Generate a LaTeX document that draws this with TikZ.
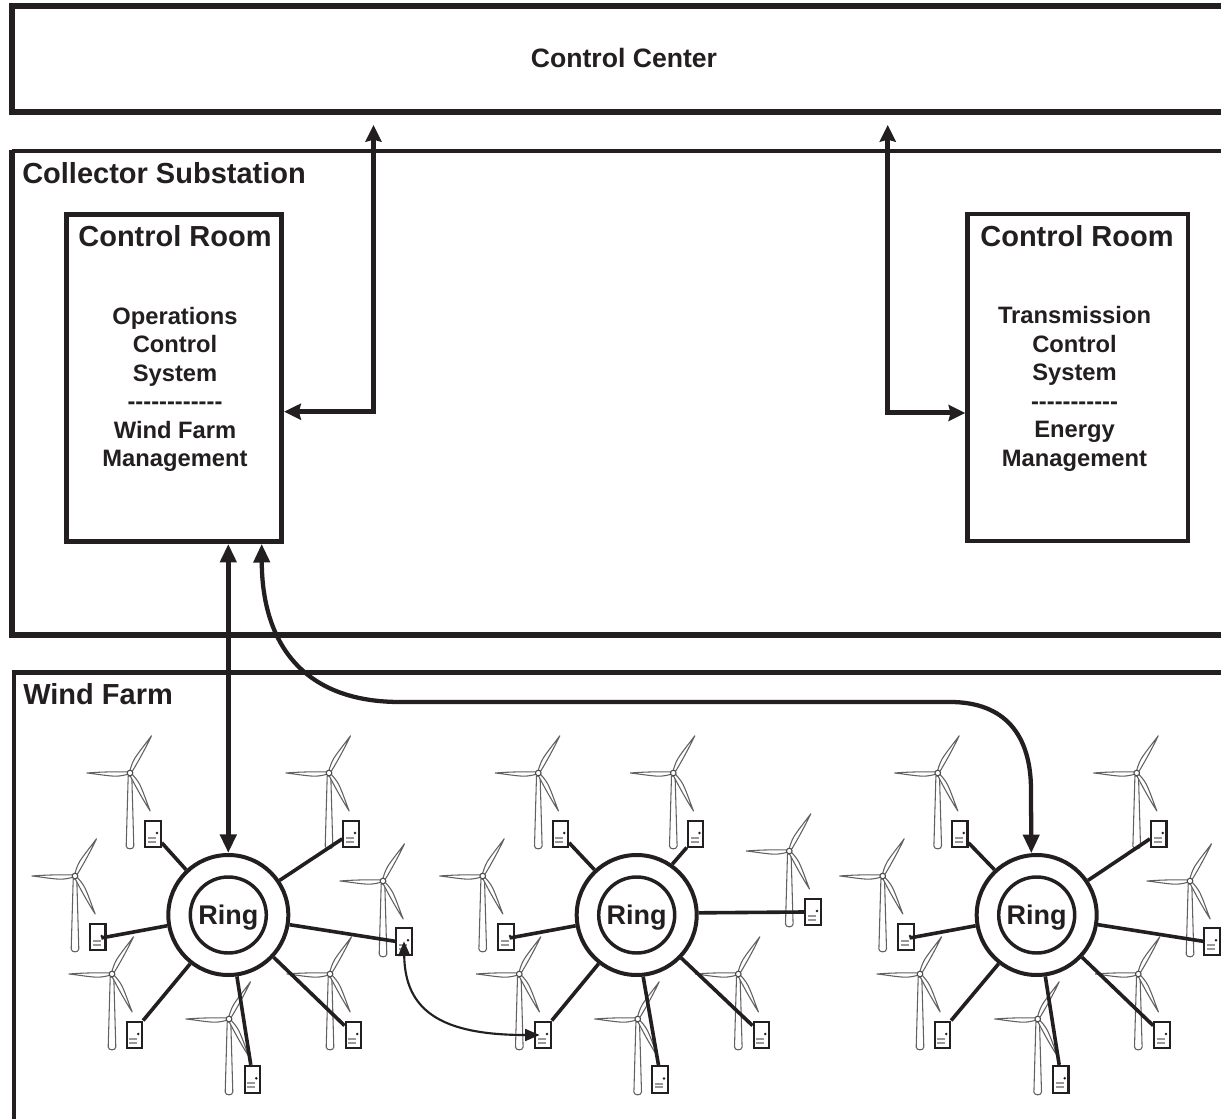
\documentclass[tikz,border=0pt]{standalone}
\usepackage{fontspec}
\setmainfont{Liberation Sans}
\usetikzlibrary{arrows.meta}
\definecolor{ink}{HTML}{231F20}
\tikzset{
  x=0.75pt, y=-0.75pt,
  outerbox/.style={draw=ink, line cap=butt, line join=miter},
  roombox/.style={draw=ink, line width=3.75pt, fill=white, inner sep=0pt, minimum height=245.3pt},
  cabinet/.style={draw=ink, line width=1.7pt, fill=white, inner sep=0pt, minimum width=11.5pt, minimum height=20pt},
  ringouter/.style={circle, draw=ink, line width=3pt, fill=white, inner sep=0pt, minimum size=90pt},
  ringinner/.style={circle, draw=ink, line width=2.6pt, fill=white, inner sep=0pt, minimum size=57pt, text=ink, text depth=0pt,
     font=\fontsize{20.25pt}{24pt}\selectfont\bfseries},
  spoke/.style={draw=ink, line width=2.7pt},
  heading/.style={text=ink, inner sep=0pt, anchor=base west, font=\fontsize{21.75pt}{26pt}\selectfont\bfseries},
  roomtitle/.style={text=ink, inner sep=0pt, anchor=base, font=\fontsize{21.75pt}{26pt}\selectfont\bfseries},
  roomtext/.style={text=ink, inner sep=0pt, align=center, font=\fontsize{17.8pt}{21.4pt}\selectfont\bfseries},
  link/.style={draw=ink, line width=3.75pt, line join=miter,
     {Stealth[width=12pt,length=12.5pt,inset=1.5pt]}-{Stealth[width=12pt,length=12.5pt,inset=1.5pt]}},
  farlink/.style={draw=ink, line width=3.6pt,
     {Stealth[width=12pt,length=14pt,inset=0pt]}-{Stealth[width=12pt,length=14pt,inset=0pt]}},
  peerlink/.style={draw=ink, line width=1.6pt, shorten >=2.5pt,
     {Stealth[width=9pt,length=11pt,inset=0pt]}-{Stealth[width=9pt,length=11pt,inset=0pt]}},
  turbine/.pic={
    \draw[draw=black!62, fill=white, line width=0.8pt, line join=round] (-1.8,3) -- (-3.8,73) .. controls (-3.8,76.8) and (3.8,76.8) .. (3.8,73) -- (1.8,3) -- cycle;
    \foreach \a in {60,180,-62}{
      \draw[draw=black!62, fill=white, line width=0.8pt, line join=round, rotate=\a]
        (1,-1) .. controls (5,-2) and (9,-3.2) .. (15,-3.2) .. controls (24,-2.8) and (35,-0.8) .. (43,0)
        .. controls (35,0.7) and (22,1.2) .. (12,1.2) .. controls (7,1.2) and (3,1.2) .. (1,1) -- cycle;
    }
    \draw[draw=black!70, fill=white, line width=0.8pt] (0,0) circle (2.8);
  }
}
\newcommand{\cabinetat}[3]{%
  \node[cabinet] (#1) at (#2,#3) {};
  \begin{scope}[shift={(#1.center)}]
    \fill[ink] (4,-1) circle (1.4);
    \fill[black!40] (-5,3) rectangle (3,5);
    \fill[black!40] (-5,6.5) rectangle (3,8.5);
  \end{scope}}
\begin{document}
\begin{tikzpicture}
\useasboundingbox (0,0) rectangle (1221,1119);
\fill[white] (0,0) rectangle (1221,1119);

% outer containers, cut by the right margin
\draw[outerbox, line width=4.4pt] (1221,6.3) -- (11.7,6.3) -- (11.7,111.7) -- (1221,111.7);
\draw[outerbox, line width=3pt] (1221,150.7) -- (11.7,150.7);
\draw[outerbox, line width=4.2pt] (11.7,149.6) -- (11.7,635) -- (1221,635);
\draw[outerbox, line width=3.6pt] (1221,672.3) -- (14,672.3) -- (14,1119);
\node[text=ink, inner sep=0pt, anchor=base, font=\fontsize{19.95pt}{24pt}\selectfont\bfseries] (cc) at (624,67.5) {Control Center};
\node[heading] (cs) at (22,183.5) {Collector Substation};
\node[heading] (wf) at (23,704.5) {Wind Farm};

% control rooms
\node[roombox, minimum width=161.25pt] (room1) at (174.2,377.8) {};
\node[roomtitle] (room1t) at (175,246.5) {Control Room};
\node[roomtext] (room1x) at (175,389.3) {Operations\\Control\\System\\-{}-{}-{}-{}-{}-{}-{}-{}-{}-{}-{}-{}\\Wind Farm\\Management};
\node[roombox, line width=3.4pt, minimum width=165.4pt] (room2) at (1077.8,377.4) {};
\node[roomtitle] (room2t) at (1077,246.5) {Control Room};
\node[roomtext] (room2x) at (1074.5,389) {Transmission\\Control\\System\\-{}-{}-{}-{}-{}-{}-{}-{}-{}-{}-{}\\Energy\\Management};

% turbines
\foreach \hx/\hy in {130/773,329/773,75/876,383/881,112/974,330/974,229/1019,
  538.3/773,673.3/773,482.7/876,789.3/851,519.3/974,738.3/974,637.7/1019,
  937.7/773,1136.7/773,882.7/876,1190/881,920/974,1138.3/974,1037.7/1019}
  \pic at (\hx,\hy) {turbine};

% cabinets
\cabinetat{b11}{153}{834}\cabinetat{b12}{351}{834}\cabinetat{b13}{97.7}{937}\cabinetat{b14}{404}{941.3}
\cabinetat{b15}{134.3}{1035}\cabinetat{b16}{353.3}{1035}\cabinetat{b17}{252.3}{1079.3}
\cabinetat{b21}{560.3}{834}\cabinetat{b22}{695.5}{834}\cabinetat{b23}{506}{937}\cabinetat{b24}{813}{912}
\cabinetat{b25}{543}{1035}\cabinetat{b26}{761.3}{1035}\cabinetat{b27}{660}{1079.5}
\cabinetat{b31}{959.7}{834}\cabinetat{b32}{1158.7}{834}\cabinetat{b33}{906}{937}\cabinetat{b34}{1212}{941.3}
\cabinetat{b35}{942.3}{1035}\cabinetat{b36}{1162}{1035}\cabinetat{b37}{1060.7}{1079.3}

% rings
\node[ringouter] (ring1o) at (228.3,915) {};
\node[ringinner] (ring1) at (228.3,915) {Ring};
\node[ringouter] (ring2o) at (636.7,915) {};
\node[ringinner] (ring2) at (636.7,915) {Ring};
\node[ringouter] (ring3o) at (1036.7,915) {};
\node[ringinner] (ring3) at (1036.7,915) {Ring};

% spokes
\draw[spoke] (ring1o.133) -- (b11.-45);
\draw[spoke] (ring1o.34) -- (b12.209);
\draw[spoke, shorten >=-4pt] (ring1o.190) -- (b13.east);
\draw[spoke] (ring1o.-9) -- (b14.west);
\draw[spoke] (ring1o.232) -- (b15.north east);
\draw[spoke] (ring1o.-43.5) -- (b16.133);
\draw[spoke] (ring1o.-82) -- (b17.96);
\draw[spoke] (ring2o.133.5) -- (b21.-45);
\draw[spoke] (ring2o.55) -- (b22.237);
\draw[spoke, shorten >=-4pt] (ring2o.190) -- (b23.east);
\draw[spoke] (ring2o.2) -- (b24.west);
\draw[spoke] (ring2o.232) -- (b25.north east);
\draw[spoke] (ring2o.-44) -- (b26.133);
\draw[spoke] (ring2o.-84) -- (b27.96);
\draw[spoke] (ring3o.133) -- (b31.-45);
\draw[spoke] (ring3o.34) -- (b32.209);
\draw[spoke, shorten >=-4pt] (ring3o.190) -- (b33.east);
\draw[spoke] (ring3o.-9) -- (b34.west);
\draw[spoke] (ring3o.232) -- (b35.north east);
\draw[spoke] (ring3o.-43.5) -- (b36.133);
\draw[spoke] (ring3o.-82) -- (b37.96);

% links to the control center and between rooms and rings
\coordinate (up1) at (373.5,125);
\coordinate (bend1) at (373.5,411.7);
\coordinate (up2) at (887.7,125);
\coordinate (bend2) at (887.7,413);
\draw[link] (room1.east |- bend1) -- (bend1) -- (up1);
\draw[link] (room2.west |- bend2) -- (bend2) -- (up2);
\draw[farlink] (ring1o.north |- room1.south) -- (ring1o.north);
\coordinate (curvefoot) at (261.7,0);
\draw[farlink, line width=3.2pt] (curvefoot |- room1.south) .. controls (262,640) and (300,702) .. (400,702)
   -- (950,702) .. controls (1005,702) and (1031,735) .. (1031,790) -- (ring3o.95);
\draw[peerlink] (b14.center) .. controls (405,1010) and (440,1035) .. (b25.center);
\end{tikzpicture}
\end{document}
